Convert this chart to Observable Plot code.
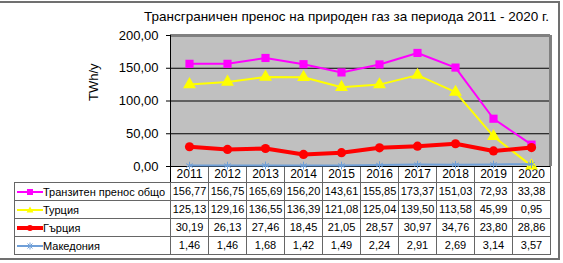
<!DOCTYPE html>
<html>
<head>
<meta charset="utf-8">
<script src="https://cdn.jsdelivr.net/npm/d3@7"></script>
<script src="https://cdn.jsdelivr.net/npm/@observablehq/plot@0.6"></script>
<style>
  html, body { margin:0; padding:0; background:#fff; }
  body { width:563px; height:263px; overflow:hidden; position:relative; font-family:"Liberation Sans", Arial, sans-serif; color:#000; }
  #frame { position:absolute; left:-3px; top:1px; width:563px; height:259px; border:2px solid #707070; box-sizing:border-box; pointer-events:none; }
  #title { position:relative; height:27px; }
  #title span { position:absolute; left:144px; top:10px; font-size:13.5px; white-space:nowrap; line-height:1; }
  #chart svg { display:block; overflow:visible; }
  #chart svg [aria-label^="x-axis"] text { font-size:12px; }
  #tbl { position:absolute; left:14px; top:182px; border-collapse:collapse; table-layout:fixed; font-size:11px; }
  #tbl td { border:1px solid #666; height:17px; padding:0; text-align:center; white-space:nowrap; line-height:1; }
  #tbl td.lab { text-align:left; }
  #tbl td.lab svg { vertical-align:middle; margin-left:1px; }
  #tbl td.lab span { vertical-align:middle; font-size:11px; }
</style>
</head>
<body>
<div id="frame"></div>
<div id="title"><span>Трансграничен пренос на природен газ за периода 2011 - 2020 г.</span></div>
<div id="chart"></div>
<table id="tbl"></table>
<script>
const years = ["2011","2012","2013","2014","2015","2016","2017","2018","2019","2020"];
const seriesNames = ["Транзитен пренос общо", "Турция", "Гърция", "Македония"];
const tranzit   = [156.77,156.75,165.69,156.20,143.61,155.85,173.37,151.03,72.93,33.38];
const turkey    = [125.13,129.16,136.55,136.39,121.08,125.04,139.50,113.58,45.99,0.95];
const greece    = [30.19,26.13,27.46,18.45,21.05,28.57,30.97,34.76,23.80,28.86];
const macedonia = [1.46,1.46,1.68,1.42,1.49,2.24,2.91,2.69,3.14,3.57];
const yTicks = [0,50,100,150,200];
const gridTicks = [50,100,150];

const seriesValues = [tranzit, turkey, greece, macedonia];
const colors  = ["#ff00ff", "#ffff00", "#ff0000", "#6f9fd8"];
const widths  = [2, 2, 4, 2];
const symbols = ["square", "triangle", "circle", "asterisk"];
const radii   = [4.6, 4.8, 4.6, 3.6];

const fmt = v => v.toFixed(2).replace(".", ",");
const rows = [];
seriesNames.forEach((s, i) => seriesValues[i].forEach((v, j) => rows.push({series: s, year: years[j], value: v, idx: i})));

const marks = [
  Plot.frame({fill:"#c0c0c0"}),
  Plot.ruleY(gridTicks, {stroke:"#000", strokeWidth:1}),
  Plot.ruleY([200], {stroke:"#808080", strokeWidth:3}),
  Plot.ruleX([years[years.length-1]], {dx:19, stroke:"#808080", strokeWidth:3}),
  Plot.ruleX(years, {dx:19, y1:0, y2:-25.5, stroke:"#666"}),
  Plot.ruleX([years[0]], {dx:-19, y1:-25.5, y2:200, stroke:"#000"}),
  Plot.ruleY([0], {stroke:"#000"}),
];
seriesNames.forEach((s, i) => {
  const d = rows.filter(r => r.idx === i);
  marks.push(Plot.line(d, {x:"year", y:"value", stroke:colors[i], strokeWidth:widths[i]}));
  if (symbols[i] === "asterisk") {
    marks.push(Plot.dot(d, {x:"year", y:"value", symbol:"asterisk", r:radii[i], stroke:colors[i], strokeWidth:1}));
  } else {
    marks.push(Plot.dot(d, {x:"year", y:"value", symbol:symbols[i], r:radii[i], fill:colors[i], stroke:"none"}));
  }
});
marks.push(Plot.text(["TWh/y"], {frameAnchor:"left", rotate:-90, dx:-77, fontSize:13}));

const chart = Plot.plot({
  width:563, height:156,
  marginTop:8, marginBottom:17, marginLeft:170, marginRight:13,
  style:{fontFamily:"'Liberation Sans', Arial, sans-serif", fontSize:"13px", color:"#000", background:"transparent", overflow:"visible"},
  x:{type:"band", domain:years, padding:0, tickSize:0, tickPadding:3, label:null},
  y:{domain:[0,200], ticks:yTicks, tickFormat:fmt, tickSize:4, tickPadding:8, label:null},
  marks
});
document.getElementById("chart").appendChild(chart);

// data table below
const tbl = d3.select("#tbl");
const cg = tbl.append("colgroup");
cg.append("col").style("width","156px");
years.forEach(() => cg.append("col").style("width","38px"));
seriesNames.forEach((s, i) => {
  const tr = tbl.append("tr");
  const td = tr.append("td").attr("class","lab");
  const key = td.append("svg").attr("width",27).attr("height",10);
  key.append("line").attr("x1",1).attr("x2",27).attr("y1",5).attr("y2",5).attr("stroke",colors[i]).attr("stroke-width",widths[i]);
  if (symbols[i] === "square") key.append("rect").attr("x",11).attr("y",2).attr("width",6).attr("height",6).attr("fill",colors[i]);
  else if (symbols[i] === "triangle") key.append("path").attr("d","M14,1.5L17.5,7.5L10.5,7.5Z").attr("fill",colors[i]);
  else if (symbols[i] === "circle") key.append("circle").attr("cx",14).attr("cy",5).attr("r",3).attr("fill",colors[i]);
  else key.append("path").attr("d","M14,1.5V8.5M10.5,5H17.5M11.5,2.5L16.5,7.5M16.5,2.5L11.5,7.5").attr("stroke",colors[i]).attr("stroke-width",1);
  td.append("span").text(s);
  seriesValues[i].forEach(v => tr.append("td").text(fmt(v)));
});
</script>
</body>
</html>
